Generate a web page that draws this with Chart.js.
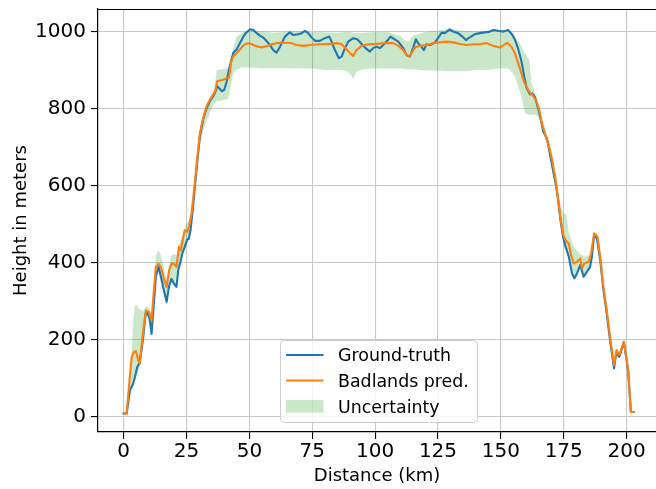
<!DOCTYPE html>
<html><head><meta charset="utf-8">
<script src="https://cdn.jsdelivr.net/npm/chart.js@4.4.1/dist/chart.umd.min.js"></script>
<style>html,body{margin:0;padding:0;background:#fff;}canvas{display:block;}</style>
</head><body>
<canvas id="c" width="656" height="489"></canvas>
<script>
const gtKm = [0,1.2,2.5,3.8,4.5,5.4,6.2,7.1,7.8,8.7,9.1,10.2,11.1,11.8,12.8,13.9,14.8,16,17.1,18,19,20,21,21.7,22.6,23.3,24.3,25.3,25.9,26.6,27.6,29,30.3,31.6,33,34.3,35.6,36.6,37.2,38,39,40,41,41.6,42.7,43.6,45,46,47.2,48.5,50.3,51.6,52.9,54.3,55.6,56.9,58.2,59.5,60.8,62.2,64.1,66.1,67.5,69.4,70.8,72.1,73.4,74.7,76.1,78,80,81.8,82.7,84,85.6,86.7,88,89.3,91.3,92.9,94.2,95.9,97.9,99.2,100.6,101.9,103.2,104.8,106.1,107.8,109.2,111.2,112.5,113.8,115.1,116.2,117.1,118.4,119.4,120.4,121.8,123.7,125,126.4,127.7,129.7,131,133,134.7,136.1,137.6,139.6,141.6,143.6,145.6,147.2,148.9,150.9,152.9,154.4,155.6,156.9,158.2,159.3,160.2,161.6,162.6,163.6,164.9,165.8,166.9,167.6,168.6,170.2,171.5,172.6,173.7,174.7,175.7,177,178.3,179.2,180.3,181.6,182.9,184.2,185.5,186.2,187.1,188.2,189.5,190.8,192.1,193.4,195,196,197.1,198,198.9,200,200.7,201.7,202.8];
const gtHeight = [9,9,69,87,104,130,139,173,208,268,273,260,216,277,364,390,364,329,299,338,359,346,338,381,403,424,442,461,463,485,546,645,728,772,802,820,833,846,859,854,846,850,872,894,924,946,955,968,983,997,1007,1005,997,990,985,976,966,953,946,962,988,999,992,994,997,1003,997,986,977,977,984,988,975,953,932,936,958,975,984,981,972,960,949,958,962,958,966,977,988,981,975,958,940,936,958,981,971,962,953,968,966,972,984,998,997,1007,1001,997,988,979,986,994,997,999,1001,1005,1003,1001,1005,994,980,956,924,884,855,838,840,830,800,775,740,733,715,659,616,573,512,469,443,417,373,360,373,395,364,377,390,416,473,464,408,330,269,200,126,169,156,174,195,148,113,13,13];

const predKm = [0,1.2,2.2,3.2,4.1,4.9,5.8,6.5,7.1,8.1,8.9,10,11.1,11.8,12.8,13.9,14.8,16,17.1,18.1,19,20,21,22,22.8,23.4,24.3,25.3,26,27,28,29,30.3,31.6,33,34.3,35.6,36.6,37.2,38.3,39.6,41,41.9,42.7,43.6,45,46.3,47.6,48.9,50.3,51.6,52.9,54.9,56.9,58.9,60.8,64.1,66.1,68.8,71.4,74.1,78,82,84.6,86.6,88.6,90,91.3,92.6,94.6,97.3,100.6,103.9,107.2,109.2,111.2,112.5,113.5,114.5,115.8,117.8,120.4,123.1,125.7,128.4,131,133.7,136.3,139,141.6,144.3,146.9,149.6,151.6,152.6,154.4,155.7,157,158.3,159.5,160.5,161.5,162.5,164,165.2,166.2,167.6,168.9,170.3,171.6,172.9,173.8,174.8,176,177,177.9,179,180.3,181.6,182.2,183.2,184.9,185.8,187.1,188.4,189.5,190.8,192.1,193.4,195,196,197.1,198,198.9,200,200.7,201.7,202.8];
const predHeight = [9,9,87,156,169,171,147,139,182,242,277,273,251,312,390,398,390,359,338,381,398,398,390,442,433,459,485,481,494,528,589,655,737,776,807,824,837,850,872,874,876,880,881,920,937,946,955,965,970,970,966,963,960,963,968,971,972,972,966,964,966,968,969,971,969,955,945,938,953,964,968,969,971,971,964,953,940,936,945,960,964,966,971,973,975,973,969,966,968,968,971,964,960,968,972,960,943,917,890,866,855,843,837,822,800,764,735,709,670,624,558,512,473,456,451,421,399,403,412,386,399,403,421,477,469,416,338,278,208,134,174,161,178,195,152,117,13,13];

const bandKm = [0,1.2,2.5,3.2,3.8,4.5,5.4,6.2,7.1,7.8,8.7,9.5,10.5,11.1,11.8,12.8,13.9,14.8,16,17.1,18,19,20,21,22,23,24.3,25.3,26.2,27,28,29,30.3,31.6,33,34.3,35.6,36.5,37,38,40,41.5,42.3,43.5,44.3,45,46.5,48,50,55,60,65,70,75,80,85,88,90,91.3,92.5,95,100,105,110,112,113.5,115,120,125,130,135,140,145,150,152.5,153.6,154.5,155.6,156.3,156.9,158.2,159.6,161.3,162.2,163.6,164.5,165.6,166.9,168.2,169.8,171.5,172.6,173.5,175,176,177,178.4,179.2,180.3,181.1,182.9,183.7,185,186.2,187.1,188.2,189.5,190.8,192.1,193.4,195,196,197.1,198,198.9,200,200.7,201.7,202.8];
const bandHigh = [10,14,95,165,250,290,288,280,277,274,286,286,280,262,322,420,433,420,385,360,395,418,424,420,450,458,492,505,512,540,600,668,745,790,812,828,845,872,900,902,904,907,908,955,976,988,995,1000,1003,1002,998,1001,1002,1000,999,998,1000,1000,998,998,998,1000,1000,990,978,976,990,1000,1004,1008,1003,1002,1003,1005,1005,1003,998,990,979,975,962,945,927,867,841,825,797,768,737,702,640,600,560,525,530,480,451,440,432,425,418,416,420,428,480,470,419,341,281,211,137,176,163,180,197,154,119,14,14];
const bandLow = [8,7,62,80,90,100,112,122,158,198,255,262,248,208,268,355,384,358,323,293,332,354,340,333,380,416,437,455,470,512,565,625,705,745,768,789,810,818,822,820,824,826,846,890,900,903,907,908,908,906,906,906,905,905,901,901,900,893,878,895,903,905,905,905,904,903,903,900,900,898,898,901,902,906,905,901,895,884,872,858,832,789,784,785,785,782,770,738,720,669,612,568,510,448,440,415,372,358,372,388,363,372,386,413,470,461,406,328,267,198,124,167,154,172,193,146,111,11,11];

const xTicks = [0,25,50,75,100,125,150,175,200];
const yTicks = [0,200,400,600,800,1000];
const seriesNames = ['Ground-truth','Badlands pred.','Uncertainty'];
const xTitle = 'Distance (km)';
const yTitle = 'Height in meters';

const FONT = 'DejaVu Sans';
const BLUE = '#1f77b4', ORANGE = '#ff7f0e', GREEN = 'rgba(44,160,44,0.25)';
const pts = (xs, ys) => xs.map((x, i) => ({x: x, y: ys[i]}));

Chart.defaults.font.family = FONT;
Chart.defaults.color = '#000';

const framePlugin = {
  id: 'frameAndLegend',
  afterDraw(chart) {
    const ctx = chart.ctx, a = chart.chartArea;
    ctx.save();
    ctx.strokeStyle = '#000'; ctx.lineWidth = 1.2;
    ctx.beginPath(); ctx.moveTo(a.left, a.top + 0.5); ctx.lineTo(a.right, a.top + 0.5); ctx.stroke();
    const bx = 280.5, by = 340.5, bw = 197, bh = 82;
    ctx.beginPath();
    ctx.roundRect(bx, by, bw, bh, 4);
    ctx.fillStyle = 'rgba(255,255,255,0.8)'; ctx.fill();
    ctx.strokeStyle = '#cccccc'; ctx.lineWidth = 1; ctx.stroke();
    const hx0 = 286, hx1 = 323.5, tx = 338;
    const rows = [355, 380.5, 406.3];
    ctx.lineWidth = 2.1;
    ctx.strokeStyle = BLUE;
    ctx.beginPath(); ctx.moveTo(hx0, rows[0]); ctx.lineTo(hx1, rows[0]); ctx.stroke();
    ctx.strokeStyle = ORANGE;
    ctx.beginPath(); ctx.moveTo(hx0, rows[1]); ctx.lineTo(hx1, rows[1]); ctx.stroke();
    ctx.fillStyle = GREEN;
    ctx.fillRect(hx0, rows[2] - 6.4, hx1 - hx0, 12.8);
    ctx.fillStyle = '#000';
    ctx.font = '17.4px "' + FONT + '"';
    ctx.textBaseline = 'alphabetic';
    ctx.textAlign = 'left';
    for (let i = 0; i < 3; i++) ctx.fillText(seriesNames[i], tx, rows[i] + 6.3);
    ctx.restore();
  }
};

const gridCommon = {color: '#c8c8c8', lineWidth: 1.1, tickLength: 7, tickColor: '#000', tickWidth: 1.1, drawTicks: true};
const lineStyle = {borderWidth: 2.1, pointRadius: 0, fill: false, tension: 0, borderJoinStyle: 'round', borderCapStyle: 'square'};

new Chart(document.getElementById('c'), {
  type: 'line',
  data: {
    datasets: [
      Object.assign({label: seriesNames[1], data: pts(predKm, predHeight), borderColor: ORANGE}, lineStyle),
      Object.assign({label: seriesNames[0], data: pts(gtKm, gtHeight), borderColor: BLUE}, lineStyle),
      {label: seriesNames[2], data: pts(bandKm, bandHigh), borderWidth: 0, borderColor: 'rgba(0,0,0,0)', backgroundColor: GREEN, pointRadius: 0, fill: '+1', tension: 0},
      {label: 'lower', data: pts(bandKm, bandLow), borderWidth: 0, borderColor: 'rgba(0,0,0,0)', pointRadius: 0, fill: false, tension: 0}
    ]
  },
  options: {
    responsive: false,
    devicePixelRatio: 1,
    animation: false,
    events: [],
    layout: {padding: {top: 9, right: 0, bottom: 0, left: 0}},
    plugins: {legend: {display: false}, tooltip: {enabled: false}},
    scales: {
      x: {
        type: 'linear', min: -10.2, max: 211.7,
        afterBuildTicks: s => { s.ticks = xTicks.map(v => ({value: v})); },
        afterFit: s => { s.height = 57; s.paddingLeft = 0; s.paddingRight = 0; },
        grid: gridCommon,
        border: {display: true, color: '#000', width: 1.2},
        ticks: {color: '#000', font: {size: 20, family: FONT}, padding: 1, maxRotation: 0, autoSkip: false, callback: v => String(v)},
        title: {display: true, text: xTitle, color: '#000', font: {size: 18, family: FONT}, padding: {top: 0, bottom: 2}}
      },
      y: {
        type: 'linear', min: -39, max: 1059.7,
        afterBuildTicks: s => { s.ticks = yTicks.map(v => ({value: v})); },
        afterFit: s => { s.width = 98; s.paddingTop = 0; s.paddingBottom = 0; },
        grid: gridCommon,
        border: {display: true, color: '#000', width: 1.2},
        ticks: {color: '#000', font: {size: 20, family: FONT}, padding: 5, autoSkip: false, callback: v => String(v)},
        title: {display: true, text: yTitle, color: '#000', font: {size: 18, family: FONT}, padding: {top: 10.5, bottom: 0}}
      }
    }
  },
  plugins: [framePlugin]
});
</script>
</body></html>
